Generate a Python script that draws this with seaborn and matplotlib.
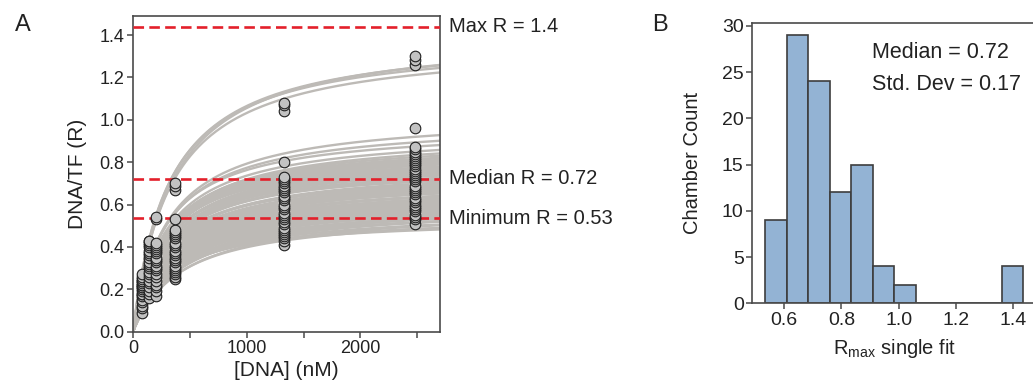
import numpy as np
import pandas as pd
import matplotlib
matplotlib.use("Agg")
import matplotlib.pyplot as plt
import seaborn as sns

# ---------------- data ----------------
# measured DNA/TF ratios at each DNA concentration (nM)
conc_levels = [80, 140, 200, 370, 1330, 2480]
r_80 = [0.09, 0.11, 0.12, 0.14, 0.15, 0.17, 0.18, 0.18, 0.19, 0.20, 0.21, 0.21,
        0.22, 0.22, 0.23, 0.24, 0.24, 0.25, 0.26, 0.27]
r_140 = [0.16, 0.18, 0.19, 0.21, 0.23, 0.24, 0.26, 0.27, 0.28, 0.30, 0.31, 0.32,
         0.33, 0.35, 0.36, 0.37, 0.38, 0.40, 0.41, 0.42, 0.43, 0.43]
r_200 = [0.17, 0.19, 0.21, 0.22, 0.24, 0.26, 0.27, 0.29, 0.30, 0.31, 0.33, 0.34,
         0.35, 0.37, 0.38, 0.39, 0.40, 0.41, 0.42, 0.53, 0.54]
r_370 = [0.25, 0.26, 0.27, 0.28, 0.29, 0.30, 0.31, 0.33, 0.34, 0.35, 0.36, 0.37,
         0.38, 0.40, 0.41, 0.42, 0.44, 0.45, 0.46, 0.47, 0.48, 0.53, 0.67, 0.69, 0.70]
r_1330 = [0.41, 0.43, 0.44, 0.45, 0.46, 0.47, 0.48, 0.49, 0.51, 0.52, 0.53, 0.54,
          0.55, 0.56, 0.58, 0.59, 0.60, 0.62, 0.63, 0.64, 0.66, 0.67, 0.68, 0.69,
          0.70, 0.71, 0.72, 0.73, 0.80, 1.04, 1.07, 1.08]
r_2480 = [0.51, 0.53, 0.54, 0.55, 0.57, 0.58, 0.59, 0.60, 0.61, 0.62, 0.63, 0.65,
          0.66, 0.67, 0.68, 0.69, 0.71, 0.72, 0.73, 0.74, 0.75, 0.76, 0.77, 0.78,
          0.79, 0.80, 0.81, 0.82, 0.83, 0.84, 0.85, 0.86, 0.87, 0.96, 1.26, 1.28, 1.30]
measured = [r_80, r_140, r_200, r_370, r_1330, r_2480]

# single-site binding fits per chamber: R = Rmax * [DNA] / (Kd + [DNA])
fit_rmax = [0.537, 0.549, 0.566, 0.577, 0.586, 0.591, 0.598, 0.602, 0.607,
            0.612, 0.616, 0.618, 0.623, 0.626, 0.629, 0.632, 0.634, 0.638, 0.641,
            0.643, 0.646, 0.647, 0.651, 0.653, 0.656, 0.659, 0.660, 0.663, 0.664,
            0.667, 0.669, 0.672, 0.673, 0.676, 0.677, 0.680, 0.681, 0.684,
            0.687, 0.691, 0.692, 0.697, 0.699, 0.703, 0.706, 0.707, 0.712, 0.714,
            0.718, 0.721, 0.722, 0.727, 0.731, 0.732, 0.738, 0.741, 0.742, 0.747,
            0.749, 0.753, 0.756, 0.758,
            0.764, 0.767, 0.775, 0.781, 0.785, 0.793, 0.799, 0.804, 0.813, 0.817,
            0.825, 0.831,
            0.838, 0.843, 0.846, 0.853, 0.858, 0.861, 0.868, 0.871, 0.878, 0.881,
            0.888, 0.893, 0.896, 0.903, 0.907,
            0.917, 0.935, 0.950, 0.969,
            0.998, 1.031,
            1.373, 1.388, 1.406, 1.420]
fit_kd = [305, 330, 420, 380, 450, 360, 400, 430, 350,
          390, 420, 340, 410, 370, 440, 360, 330, 400, 380,
          350, 420, 310, 390, 360, 330, 410, 370, 340, 300,
          380, 350, 320, 400, 360, 310, 390, 340, 300,
          330, 370, 300, 350, 320, 390, 340, 290, 360, 310,
          330, 280, 350, 300, 320, 270, 340, 300, 280, 330,
          290, 310, 270, 300,
          320, 280, 300, 260, 310, 290, 270, 300, 280, 260,
          290, 270,
          300, 280, 260, 290, 270, 300, 260, 280, 290, 270,
          260, 280, 300, 270, 290,
          280, 300, 290, 270,
          290, 300,
          330, 310, 320, 345]

# histogram of single-fit Rmax values
bin_edges = [0.535, 0.61, 0.685, 0.76, 0.835, 0.91, 0.985, 1.06, 1.135, 1.21,
             1.285, 1.36, 1.435]
bin_counts = [9, 29, 24, 12, 15, 4, 2, 0, 0, 0, 0, 4]

ref_lines = [1.44, 0.722, 0.535]
ref_labels = ["Max R = 1.4", "Median R = 0.72", "Minimum R = 0.53"]

# ---------------- style ----------------
sns.set_style("ticks")
plt.rcParams["font.family"] = ["Liberation Sans", "DejaVu Sans"]
spine_col = "#4a4a4a"
plt.rcParams.update({
    "axes.edgecolor": spine_col,
    "axes.linewidth": 1.2,
    "xtick.color": spine_col,
    "ytick.color": spine_col,
    "xtick.labelcolor": "#222222",
    "ytick.labelcolor": "#222222",
    "xtick.major.size": 4,
    "ytick.major.size": 4,
    "xtick.major.width": 1.1,
    "ytick.major.width": 1.1,
    "xtick.direction": "out",
    "ytick.direction": "out",
    "text.color": "#222222",
    "axes.labelcolor": "#222222",
})

W, H = 1033, 384
fig = plt.figure(figsize=(W / 100, H / 100), dpi=100)

# ---------------- panel A ----------------
axA = fig.add_axes([133 / W, 1 - 331.7 / H, (440 - 133) / W, (331.7 - 16) / H])

xs = np.linspace(0, 2700, 300)
curve_rows = []
for i, (rm, kd) in enumerate(zip(fit_rmax, fit_kd)):
    for xv in xs:
        curve_rows.append((i, xv, rm * xv / (kd + xv)))
df_curves = pd.DataFrame(curve_rows, columns=["chamber", "conc", "R"])
sns.lineplot(data=df_curves, x="conc", y="R", units="chamber", estimator=None,
             color="#bdbab6", linewidth=1.7, ax=axA, zorder=1, legend=False)

for yv, lab in zip(ref_lines, ref_labels):
    axA.axhline(yv, color="#e3202b", linewidth=1.9, dashes=(4, 2), zorder=3)
    axA.text(1.03, yv, lab, transform=axA.get_yaxis_transform(), va="center",
             ha="left", fontsize=14.5, clip_on=False)

pts = pd.DataFrame([(c, v) for c, vals in zip(conc_levels, measured) for v in vals],
                   columns=["conc", "R"])
sns.scatterplot(data=pts, x="conc", y="R", color="#c2c2c2", edgecolor="#1e1e1e",
                linewidth=0.8, s=58, ax=axA, zorder=4, legend=False)

axA.set_xlim(0, 2700)
axA.set_ylim(0, 1.49)
axA.set_xticks([0, 500, 1000, 1500, 2000, 2500])
axA.set_xticklabels(["0", "", "1000", "", "2000", ""])
axA.set_yticks([0.0, 0.2, 0.4, 0.6, 0.8, 1.0, 1.2, 1.4])
axA.set_yticklabels([f"{v:.1f}" for v in [0.0, 0.2, 0.4, 0.6, 0.8, 1.0, 1.2, 1.4]])
axA.tick_params(labelsize=13, pad=2)
axA.set_xlabel("[DNA] (nM)", fontsize=15, labelpad=3)
axA.set_ylabel("DNA/TF (R)", fontsize=15, labelpad=9)
for s in axA.spines.values():
    s.set_visible(True)

fig.text(23 / W, 1 - 25 / H, "A", fontsize=17, ha="center", va="center")

# ---------------- panel B ----------------
axB = fig.add_axes([752 / W, 1 - 303.3 / H, (1038 - 752) / W, (303.3 - 22.7) / H])
centers = [(a + b) / 2 for a, b in zip(bin_edges[:-1], bin_edges[1:])]
sns.histplot(x=centers, weights=bin_counts, bins=bin_edges, ax=axB,
             color="#93b3d4", edgecolor="#3d3d3d", linewidth=1.2, alpha=1)
axB.set_xlim(0.488, 1.486)
axB.set_ylim(0, 30.35)
axB.set_xticks([0.6, 0.8, 1.0, 1.2, 1.4])
axB.set_xticklabels(["0.6", "0.8", "1.0", "1.2", "1.4"])
axB.set_yticks([0, 5, 10, 15, 20, 25, 30])
axB.tick_params(labelsize=14, pad=2)
axB.set_ylabel("Chamber Count", fontsize=14.5, labelpad=14)
axB.set_xlabel(r"R$_{\mathregular{max}}$ single fit", fontsize=14.5, labelpad=6)
for s in axB.spines.values():
    s.set_visible(True)
axB.text(872 / W, 1 - 53 / H, "Median = 0.72", transform=fig.transFigure,
         fontsize=15.5, va="center", ha="left")
axB.text(872 / W, 1 - 85 / H, "Std. Dev = 0.17", transform=fig.transFigure,
         fontsize=15.5, va="center", ha="left")

fig.text(660 / W, 1 - 25 / H, "B", fontsize=17, ha="center", va="center")

fig.savefig("out.png", dpi=100)
